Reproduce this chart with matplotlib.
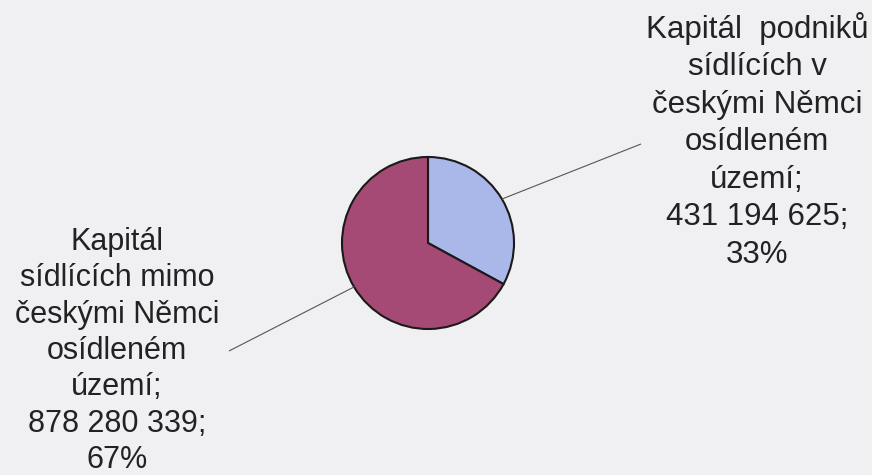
import numpy as np
import matplotlib
matplotlib.use("Agg")
import matplotlib.pyplot as plt

labels = ["Kapitál  podniků\nsídlících v\nčeskými Němci\nosídleném\núzemí;",
          "Kapitál\nsídlících mimo\nčeskými Němci\nosídleném\núzemí;"]
values = [431194625, 878280339]
colors = ["#a9b7e9", "#a54a74"]

W, H = 872, 475
fig = plt.figure(figsize=(W / 100, H / 100), dpi=100)
fig.patch.set_facecolor("#f0f0f3")
ax = fig.add_axes([0, 0, 1, 1])
ax.set_xlim(0, W)
ax.set_ylim(0, H)
ax.set_aspect("equal")
ax.axis("off")

cx, cy, r = 428, H - 243, 86
wedges, _ = ax.pie(values, colors=colors, startangle=90, counterclock=False,
                   center=(cx, cy), radius=r, frame=True,
                   wedgeprops=dict(edgecolor="#1a1a1a", linewidth=1.5))
ax.set_xlim(0, W)
ax.set_ylim(0, H)
ax.axis("off")

total = sum(values)
fmt = lambda v: f"{v:,}".replace(",", " ")
texts = [f"{labels[i]}\n{fmt(values[i])};\n{round(values[i] / total * 100)}%" for i in range(2)]

# label anchor positions (text centre x, top y), sizes and leader ends
label_pos = [(757, H - 12), (117, H - 227)]
label_size = [22.5, 22]
label_ls = [1.325, 1.275]
leader_end = [(641, H - 144), (229, H - 351)]

for i, w in enumerate(wedges):
    ang = np.deg2rad((w.theta1 + w.theta2) / 2)
    sx, sy = cx + r * np.cos(ang), cy + r * np.sin(ang)
    ex, ey = leader_end[i]
    ax.plot([sx, ex], [sy, ey], color="#555555", lw=0.8, solid_capstyle="butt")
    ax.text(label_pos[i][0], label_pos[i][1], texts[i], ha="center", va="top",
            fontsize=label_size[i], family="Liberation Sans", color="#222222",
            linespacing=label_ls[i])

fig.savefig("out.png", dpi=100, facecolor=fig.get_facecolor())
